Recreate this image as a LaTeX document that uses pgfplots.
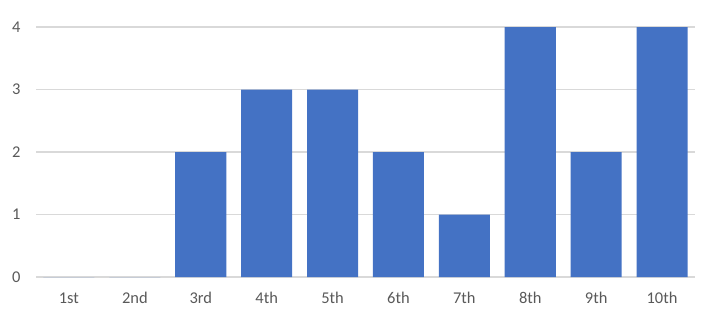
\documentclass[border=0pt]{standalone}
\usepackage{pgfplots}
\pgfplotsset{compat=1.18}
\usepackage{fontspec}
\setmainfont{Carlito}
\definecolor{barblue}{HTML}{4472C4}
\definecolor{gridgray}{HTML}{D9D9D9}
\definecolor{textgray}{HTML}{595959}
\begin{document}
\begin{tikzpicture}[x=1bp,y=1bp]
\useasboundingbox (0,0) rectangle (704,318);
\begin{axis}[
  at={(36bp,41bp)}, anchor=south west,
  scale only axis, width=659bp, height=250bp,
  xmin=-0.5, xmax=9.5, ymin=0, ymax=4,
  xtick={0,...,9},
  xticklabels={1st,2nd,3rd,4th,5th,6th,7th,8th,9th,10th},
  ytick={0,1,2,3,4},
  ymajorgrids, grid style={gridgray, line width=1.5bp},
  axis line style={draw=none},
  axis x line*=bottom,
  tick style={draw=none},
  every tick label/.style={font=\fontsize{16.5}{18}\selectfont, text=textgray},
  /pgf/number format/assume math mode=true,
  xticklabel style={yshift=-12bp},
  yticklabel style={xshift=-12bp},
  clip=false,
]
\draw[gridgray, line width=1.5bp] (axis cs:-0.5,0) -- (axis cs:9.5,0);
\addplot[ybar, bar width=0.775, fill=barblue, draw=none, bar shift=0pt]
  coordinates {(0,0) (1,0) (2,2) (3,3) (4,3) (5,2) (6,1) (7,4) (8,2) (9,4)};
\end{axis}
\end{tikzpicture}
\end{document}
